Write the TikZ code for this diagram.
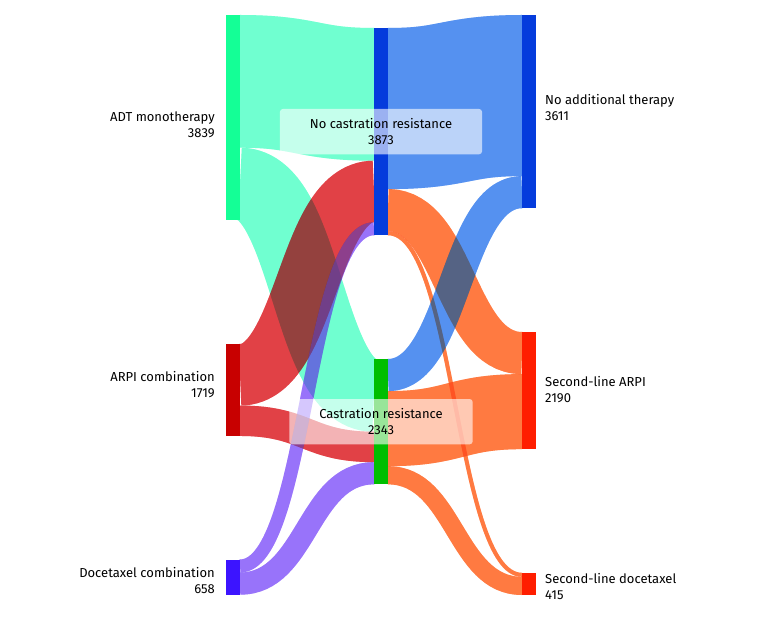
\documentclass[tikz,border=0pt]{standalone}
\usepackage{fontspec}
\setmainfont{Fira Sans}
\usetikzlibrary{positioning,backgrounds}

% node colours
\definecolor{adtC}{RGB}{20,255,150}
\definecolor{arpiC}{RGB}{200,0,0}
\definecolor{docC}{RGB}{60,20,255}
\definecolor{ncrC}{RGB}{5,60,220}
\definecolor{crC}{RGB}{0,190,0}
\definecolor{natC}{RGB}{5,60,220}
\definecolor{slaC}{RGB}{255,30,0}
\definecolor{sldC}{RGB}{255,30,0}
% flow colours
\definecolor{tealF}{RGB}{112,255,208}
\definecolor{redF}{RGB}{225,65,70}
\definecolor{purpleF}{RGB}{152,115,250}
\definecolor{blueF}{RGB}{85,145,240}
\definecolor{orangeF}{RGB}{255,122,65}

\def\ks{0.05351}
\tikzset{
  bar/.style={rectangle,minimum width=14pt,minimum height={#1*\ks*1pt},
    inner sep=0pt,outer sep=0pt,anchor=north west},
  lab/.style={font=\fontsize{13}{16}\selectfont,inner sep=0pt},
  midlab/.style={lab,fill=white,fill opacity=0.6,text opacity=1,
    rounded corners=3pt,inner xsep=30pt,inner ysep=9.5pt,align=center}
}
% source, offset, target, offset, count, colour
\newcommand\flow[6]{%
  \path (#1.north east) ++(0,{(#2+#5/2)*\ks}) coordinate (fs)
        (#3.north west) ++(0,{(#4+#5/2)*\ks}) coordinate (ft);
  \draw[#6,line width={#5*\ks*1pt},blend mode=multiply]
    (fs) .. controls +(67,0) and +(-67,0) .. (ft);
  \draw[#6,line width={#5*\ks*1pt},opacity=0.4,blend mode=normal]
    (fs) .. controls +(67,0) and +(-67,0) .. (ft);
}

\begin{document}
\begin{tikzpicture}[x=1pt,y=-1pt]
  \useasboundingbox (0,0) rectangle (780,620);
  % Nodes
  \node[bar=3839,fill=adtC] (adt) at (226,15) {};
  \node[bar=1719,fill=arpiC] (arpi) at (226,344) {};
  \node[bar=658,fill=docC] (doc) at (226,559.5) {};
  \node[bar=3873,fill=ncrC] (ncr) at (374,28) {};
  \node[bar=2343,fill=crC] (cr) at (374,359) {};
  \node[bar=3611,fill=natC] (nat) at (522,15) {};
  \node[bar=2190,fill=slaC] (sla) at (522,332) {};
  \node[bar=415,fill=sldC] (sld) at (522,572.8) {};

  % Flows
  \begin{scope}[on background layer]
    \flow{adt}{0}{ncr}{0}{2480}{tealF}
    \flow{adt}{2480}{cr}{0}{1359}{tealF}
    \flow{arpi}{0}{ncr}{2480}{1150}{redF}
    \flow{arpi}{1150}{cr}{1359}{569}{redF}
    \flow{doc}{0}{ncr}{3630}{243}{purpleF}
    \flow{doc}{243}{cr}{1928}{415}{purpleF}
    \flow{ncr}{0}{nat}{0}{3011}{blueF}
    \flow{ncr}{3011}{sla}{0}{787}{orangeF}
    \flow{ncr}{3798}{sld}{0}{75}{orangeF}
    \flow{cr}{0}{nat}{3011}{600}{blueF}
    \flow{cr}{600}{sla}{787}{1403}{orangeF}
    \flow{cr}{2003}{sld}{75}{340}{orangeF}
  \end{scope}

  % Labels
  \node[lab,align=right,left=11pt of adt,yshift=-7.5pt] (adtL) {ADT monotherapy\\3839};
  \node[lab,align=right,left=11pt of arpi,yshift=5pt] (arpiL) {ARPI combination\\1719};
  \node[lab,align=right,left=11pt of doc,yshift=-3pt] (docL) {Docetaxel combination\\658};
  \node[lab,align=left,right=9pt of nat,yshift=4.5pt] (natL) {No additional therapy\\3611};
  \node[lab,align=left,right=9pt of sla,yshift=1.5pt] (slaL) {Second-line ARPI\\2190};
  \node[lab,align=left,right=9pt of sld,yshift=-3pt] (sldL) {Second-line docetaxel\\415};
  \node[midlab] (ncrL) at (ncr) {No castration resistance\\3873};
  \node[midlab] (crL) at (cr) {Castration resistance\\2343};
\end{tikzpicture}
\end{document}
